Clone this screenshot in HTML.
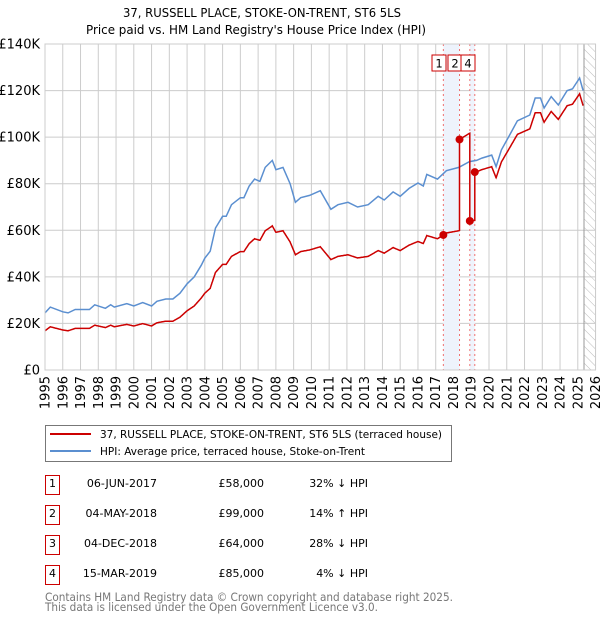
<!DOCTYPE html>
<html><head><meta charset="utf-8"><style>
body{margin:0;background:#fff;font-family:"DejaVu Sans","Liberation Sans",sans-serif;}
#wrap{position:relative;width:600px;height:620px;overflow:hidden;}
</style></head><body><div id="wrap">
<svg id="chart" width="600" height="620" style="position:absolute;left:0;top:0;font-family:'DejaVu Sans','Liberation Sans',sans-serif">
<defs><pattern id="hatch" width="6" height="6" patternUnits="userSpaceOnUse" patternTransform="rotate(-45)"><line x1="0" y1="0" x2="0" y2="6" stroke="#bbb" stroke-width="1"/></pattern></defs>
<text x="123" y="17" font-size="12.5" textLength="278" lengthAdjust="spacingAndGlyphs" fill="#000">37, RUSSELL PLACE, STOKE-ON-TRENT, ST6 5LS</text>
<text x="86" y="34" font-size="12.5" textLength="340" lengthAdjust="spacingAndGlyphs" fill="#000">Price paid vs. HM Land Registry's House Price Index (HPI)</text>
<g id="grid"></g><g id="shade"></g><g id="series"></g><g id="axes"></g>
<rect x="45.5" y="425.5" width="406" height="36" fill="#fff" stroke="#777"/>
<line x1="50" y1="434" x2="91" y2="434" stroke="#cc0000" stroke-width="2"/>
<text x="100" y="438" font-size="11" textLength="342" lengthAdjust="spacingAndGlyphs">37, RUSSELL PLACE, STOKE-ON-TRENT, ST6 5LS (terraced house)</text>
<line x1="50" y1="451" x2="91" y2="451" stroke="#5b8fd0" stroke-width="2"/>
<text x="100" y="455" font-size="11" textLength="265" lengthAdjust="spacingAndGlyphs">HPI: Average price, terraced house, Stoke-on-Trent</text>
<g id="table" font-size="11"></g>
<text x="45" y="601" font-size="11.5" textLength="408" lengthAdjust="spacingAndGlyphs" fill="#777">Contains HM Land Registry data © Crown copyright and database right 2025.</text>
<text x="45" y="611" font-size="11.5" textLength="333" lengthAdjust="spacingAndGlyphs" fill="#777">This data is licensed under the Open Government Licence v3.0.</text>
</svg></div>
<script>
const hpiYears=[1995.0,1995.3,1996.0,1996.3,1996.7,1997.5,1997.8,1998.4,1998.7,1998.9,1999.6,2000.0,2000.5,2001.0,2001.3,2001.8,2002.2,2002.6,2003.0,2003.4,2003.8,2004.0,2004.3,2004.6,2005.0,2005.2,2005.5,2006.0,2006.2,2006.5,2006.8,2007.1,2007.4,2007.8,2008.0,2008.4,2008.8,2009.1,2009.4,2009.9,2010.5,2011.1,2011.5,2012.06,2012.6,2013.2,2013.76,2014.1,2014.6,2015.0,2015.5,2016.0,2016.3,2016.5,2017.1,2017.6,2018.3,2018.9,2019.3,2019.6,2020.15,2020.4,2020.7,2021.1,2021.6,2022.3,2022.6,2022.9,2023.1,2023.5,2023.9,2024.4,2024.7,2025.1,2025.3];
const hpiValues=[24.5,27,25,24.5,26,26,28,26.5,28,27,28.5,27.5,29,27.5,29.5,30.5,30.5,33,37,40,45,48,51,61,66,66,71,74,74,79,82,81,87,90,86,87,80,72,74,75,77,69,71,72,70,71,74.6,73,76.5,74.6,78,80.3,79,84,82,85.6,87,89.5,90,91,92.3,87.3,94.5,100,107,109.5,116.8,116.8,112.5,117.4,113.8,120,120.7,125.4,120];
const saleLabels=["1","2","3","4"];
const saleDates=["06-JUN-2017","04-MAY-2018","04-DEC-2018","15-MAR-2019"];
const saleYears=[2017.43,2018.34,2018.92,2019.2];
const salePrices=[58,99,64,85];
const salePriceText=["£58,000","£99,000","£64,000","£85,000"];
const saleHpiText=["32% ↓ HPI","14% ↑ HPI","28% ↓ HPI","4% ↓ HPI"];
const yTicks=[0,20,40,60,80,100,120,140];
const yTickLabels=["£0","£20K","£40K","£60K","£80K","£100K","£120K","£140K"];
const xTicks=[1995,1996,1997,1998,1999,2000,2001,2002,2003,2004,2005,2006,2007,2008,2009,2010,2011,2012,2013,2014,2015,2016,2017,2018,2019,2020,2021,2022,2023,2024,2025,2026];

const NS="http://www.w3.org/2000/svg";
const X=y=>45+(y-1995)*17.76;
const Y=v=>370-v/140*326;
function mk(tag,attrs,parent){const e=document.createElementNS(NS,tag);for(const k in attrs)e.setAttribute(k,attrs[k]);parent.appendChild(e);return e;}
function hpiAt(t){if(t<=hpiYears[0])return hpiValues[0];for(let i=1;i<hpiYears.length;i++){if(t<=hpiYears[i]){const f=(t-hpiYears[i-1])/(hpiYears[i]-hpiYears[i-1]);return hpiValues[i-1]+f*(hpiValues[i]-hpiValues[i-1]);}}return hpiValues[hpiValues.length-1];}
const grid=document.getElementById('grid'),axes=document.getElementById('axes'),shade=document.getElementById('shade'),ser=document.getElementById('series');
const x1=45,x2=595.5;
yTicks.forEach((v,i)=>{
 const l=mk('line',{x1:x1,x2:x2,y1:Y(v),y2:Y(v),stroke:'#ccc','stroke-width':1},grid);
 
 
 const t=mk('text',{x:40,y:Y(v)+4.5,'text-anchor':'end','font-size':13},axes);
 t.textContent=yTickLabels[i];
 
 
});
xTicks.forEach(yr=>{
 const l=mk('line',{x1:X(yr),x2:X(yr),y1:Y(140),y2:370,stroke:'#ccc','stroke-width':1},grid);
 
 
 const t=mk('text',{x:0,y:0,'text-anchor':'end','font-size':13,transform:`translate(${X(yr)+4.5},376) rotate(-90)`},axes);
 t.textContent=yr;
 
 
});
const h=mk('rect',{x:584,y:Y(140),width:x2-584,height:370-Y(140),fill:'url(#hatch)'},shade);


mk('line',{x1:584,x2:584,y1:Y(140),y2:370,stroke:'#999','stroke-width':1},shade);
[[0,1],[2,3]].forEach(p=>{
 const r=mk('rect',{x:X(saleYears[p[0]]),y:Y(140),width:X(saleYears[p[1]])-X(saleYears[p[0]]),height:370-Y(140),fill:'#eef3fc'},shade);
 
 
});
saleYears.forEach((s,i)=>{
 const l=mk('line',{x1:X(s),x2:X(s),y1:Y(140),y2:370,stroke:'#f07070','stroke-width':1,'stroke-dasharray':'2,3'},shade);
 
 
});
mk('rect',{x:x1,y:Y(140),width:x2-x1,height:370-Y(140),fill:'none',stroke:'#ccc'},axes);
let d='';for(let i=0;i<hpiYears.length;i++)d+=(i?'L':'M')+X(hpiYears[i]).toFixed(1)+','+Y(hpiValues[i]).toFixed(1);
const hp=mk('path',{d:d,fill:'none',stroke:'#5b8fd0','stroke-width':1.5},ser);


const ts=[];for(let t=1995;t<=2025.3;t+=0.02)ts.push(+t.toFixed(3));
saleYears.forEach(s=>{ts.push(s-0.001,s);});hpiYears.forEach(y=>ts.push(y));
ts.sort((a,b)=>a-b);
let rd='';
ts.forEach((t,k)=>{
 let idx=-1;for(let i=0;i<saleYears.length;i++)if(t>=saleYears[i])idx=i;
 const base=idx<0?0:idx;
 const v=salePrices[base]*hpiAt(t)/hpiAt(saleYears[base]);
 rd+=(k?'L':'M')+X(t).toFixed(1)+','+Y(v).toFixed(1);
});
const rp=mk('path',{d:rd,fill:'none',stroke:'#cc0000','stroke-width':1.5},ser);


saleYears.forEach((s,i)=>{
 const c=mk('circle',{cx:X(s),cy:Y(salePrices[i]),r:4,fill:'#cc0000'},ser);
 
 
});
const boxX=[432,448,461];const boxL=["1","2","4"];
boxX.forEach((bx,i)=>{
 const r=mk('rect',{x:bx,y:55,width:14,height:16,fill:'#fff',stroke:'#cc0000'},ser);
 
 
 const t=mk('text',{x:bx+7,y:67.5,'text-anchor':'middle','font-size':11.5},ser);
 t.textContent=boxL[i];
 
 
});
const tb=document.getElementById('table');
saleLabels.forEach((lb,i)=>{
 const y=475+i*30;
 const r=mk('rect',{x:45.5,y:y+0.5,width:14,height:19,fill:'#fff',stroke:'#cc0000'},tb);
 
 
 const n=mk('text',{x:52.5,y:y+12,'text-anchor':'middle'},tb);n.textContent=lb;
 
 
 const a=mk('text',{x:157,y:y+12,'text-anchor':'end'},tb);a.textContent=saleDates[i];
 
 
 const p=mk('text',{x:264,y:y+12,'text-anchor':'end'},tb);p.textContent=salePriceText[i];
 
 
 const q=mk('text',{x:368,y:y+12,'text-anchor':'end'},tb);q.textContent=saleHpiText[i];
 
 
});
</script></body></html>
